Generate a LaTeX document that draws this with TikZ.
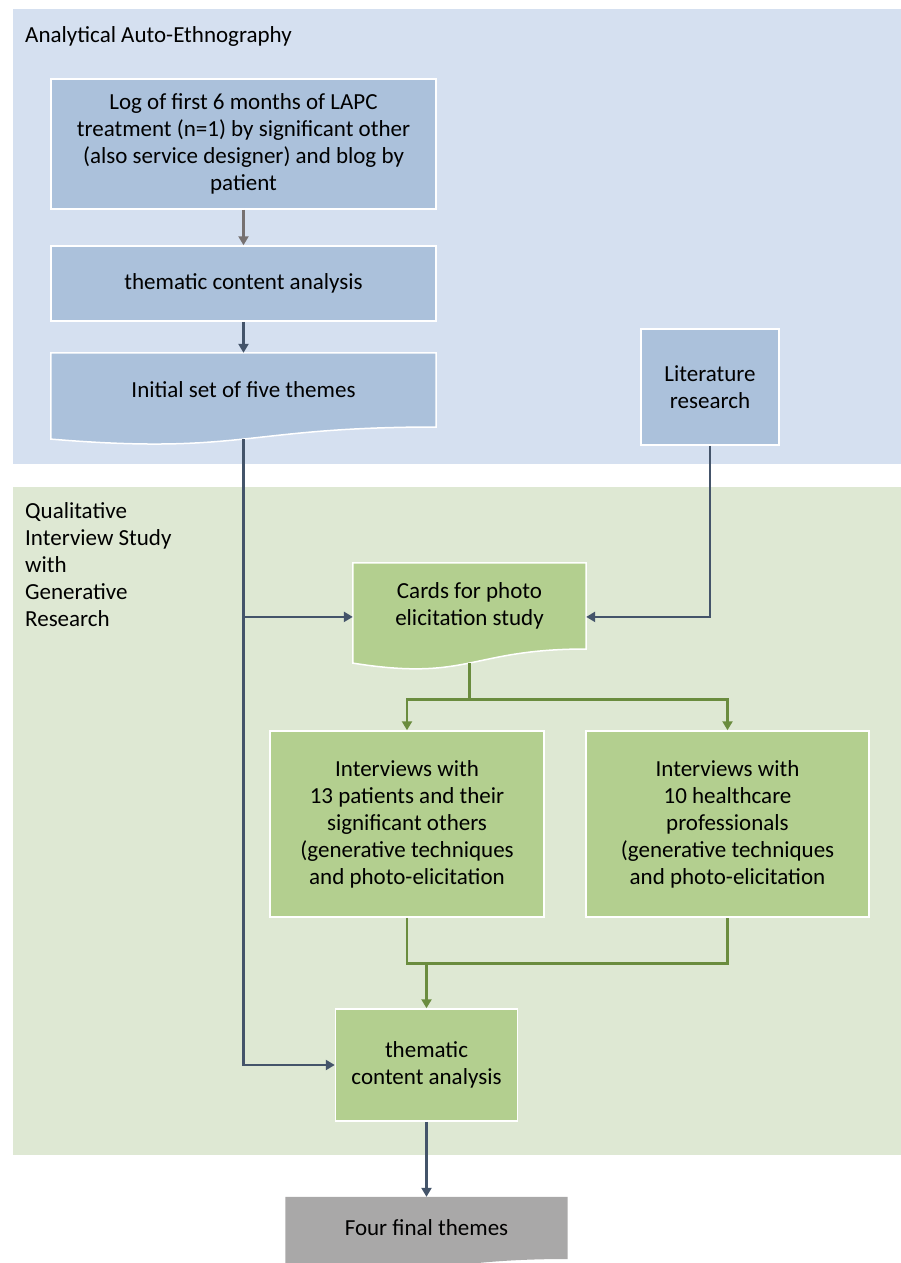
\documentclass[tikz,border=0pt]{standalone}
\usepackage{fontspec}
\setmainfont{Carlito}
\usetikzlibrary{arrows.meta,calc}
\definecolor{bluepanel}{HTML}{D5E0F0}
\definecolor{bluebox}{HTML}{ABC1DB}
\definecolor{greenpanel}{HTML}{DEE8D3}
\definecolor{greenbox}{HTML}{B3CF8F}
\definecolor{greenline}{HTML}{6A8C3E}
\definecolor{slateline}{HTML}{44546A}
\definecolor{grayline}{HTML}{767171}
\definecolor{finalgray}{HTML}{A9A8A8}
\newcommand{\myfs}{\fontsize{23}{27}\selectfont}
\tikzset{
  tip/.style={-{Triangle[length=9pt,width=10pt]}},
  box/.style={rectangle, draw=white, line width=1.5pt, align=center, font=\myfs, inner sep=2pt},
  bluebx/.style={box, fill=bluebox},
  greenbx/.style={box, fill=greenbox},
  docframe/.style={rectangle, draw=none, align=center, font=\myfs, inner sep=2pt},
  slate/.style={draw=slateline, line width=2.8pt},
  greenconn/.style={draw=greenline, line width=2.8pt},
  grayconn/.style={draw=grayline, line width=2.8pt},
  panellabel/.style={font=\myfs, inner sep=0pt, align=left}
}
\begin{document}
\begin{tikzpicture}[x=1pt,y=-1pt]
\useasboundingbox (0,0) rectangle (901,1263);
% panels
\fill[bluepanel] (13,9) rectangle (901,464);
\fill[greenpanel] (13,487) rectangle (901,1155);
\node[panellabel, anchor=base west] (lab1) at (25,43) {Analytical Auto-Ethnography};
\node[panellabel, anchor=north west] (lab2) at (25,502) {Qualitative\\Interview Study\\with\\Generative\\Research};

% top boxes
\node[bluebx, minimum width=385pt, minimum height=130pt] (b1) at (243.5,144)
  {Log of first 6 months of LAPC\\treatment (n=1) by significant other\\(also service designer) and blog by\\patient};
\node[bluebx, minimum width=385pt, minimum height=75pt] (b2) at (243.5,283.5) {thematic content analysis};
% document shape: initial set
\node[docframe, minimum width=385pt, minimum height=73.8pt] (b3) at (243.5,389.9) {};
\fill[bluebox, draw=white, line width=1.5pt] (b3.north west) -- (b3.north east) -- (b3.south east)
  .. controls (b3.south) and ($(b3.south)+(0,28.1)$) .. ($(b3.south west)+(0,12.1)$) -- cycle;
\node[docframe] at (b3.center) {Initial set of five themes};
\coordinate (b3b) at ($(b3.south)+(0,12.1)$);

\node[bluebx, minimum width=138pt, minimum height=116pt] (lit) at (710,387) {Literature\\research};

% cards document shape
\node[docframe, minimum width=233pt, minimum height=85.8pt] (cards) at (469.5,605.9) {};
\fill[greenbox, draw=white, line width=1.5pt] (cards.north west) -- (cards.north east) -- (cards.south east)
  .. controls (cards.south) and ($(cards.south)+(0,32.7)$) .. ($(cards.south west)+(0,14.1)$) -- cycle;
\node[docframe] at (cards.center) {Cards for photo\\elicitation study};
\coordinate (cb) at ($(cards.south)+(0,14.1)$);
\coordinate (cardsinL) at ([yshift=-11pt]cards.west);
\coordinate (cardsinR) at ([yshift=-11pt]cards.east);

\node[greenbx, minimum width=274pt, minimum height=186pt] (intL) at (407,824)
  {Interviews with\\13 patients and their\\significant others\\(generative techniques\\and photo-elicitation};
\node[greenbx, minimum width=283pt, minimum height=186pt] (intR) at (727.5,824)
  {Interviews with\\10 healthcare\\professionals\\(generative techniques\\and photo-elicitation};
\node[greenbx, minimum width=182pt, minimum height=112pt] (th2) at (426.5,1065) {thematic\\content analysis};

% final document shape
\node[docframe, minimum width=282pt, minimum height=61.8pt] (fin) at (426.5,1227.9) {};
\fill[finalgray] (fin.north west) -- (fin.north east) -- (fin.south east)
  .. controls (fin.south) and ($(fin.south)+(0,23.5)$) .. ($(fin.south west)+(0,10.2)$) -- cycle;
\node[docframe] at (fin.center) {Four final themes};

% connectors
\draw[grayconn, tip] (b1.south) -- (b2.north);
\draw[slate, tip] (b2.south) -- (b3.north);
\draw[slate, tip] (b3b) |- (th2.west);
\draw[slate, tip] (b3b |- cardsinL) -- (cardsinL);
\draw[slate, tip] (lit.south) |- (cardsinR);
\path (cb) ++(0,36) coordinate (split);
\draw[greenconn, tip] (cb) -- (split) -| (intL.north);
\draw[greenconn, tip] (split) -| (intR.north);
\path (intL.south) ++(0,46) coordinate (mrgL);
\coordinate (mrg) at (mrgL -| th2.north);
\draw[greenconn] (intL.south) -- (mrgL) -| (intR.south);
\draw[greenconn, tip] (mrg) -- (th2.north);
\draw[slate, tip] (th2.south) -- (fin.north);
\end{tikzpicture}
\end{document}
